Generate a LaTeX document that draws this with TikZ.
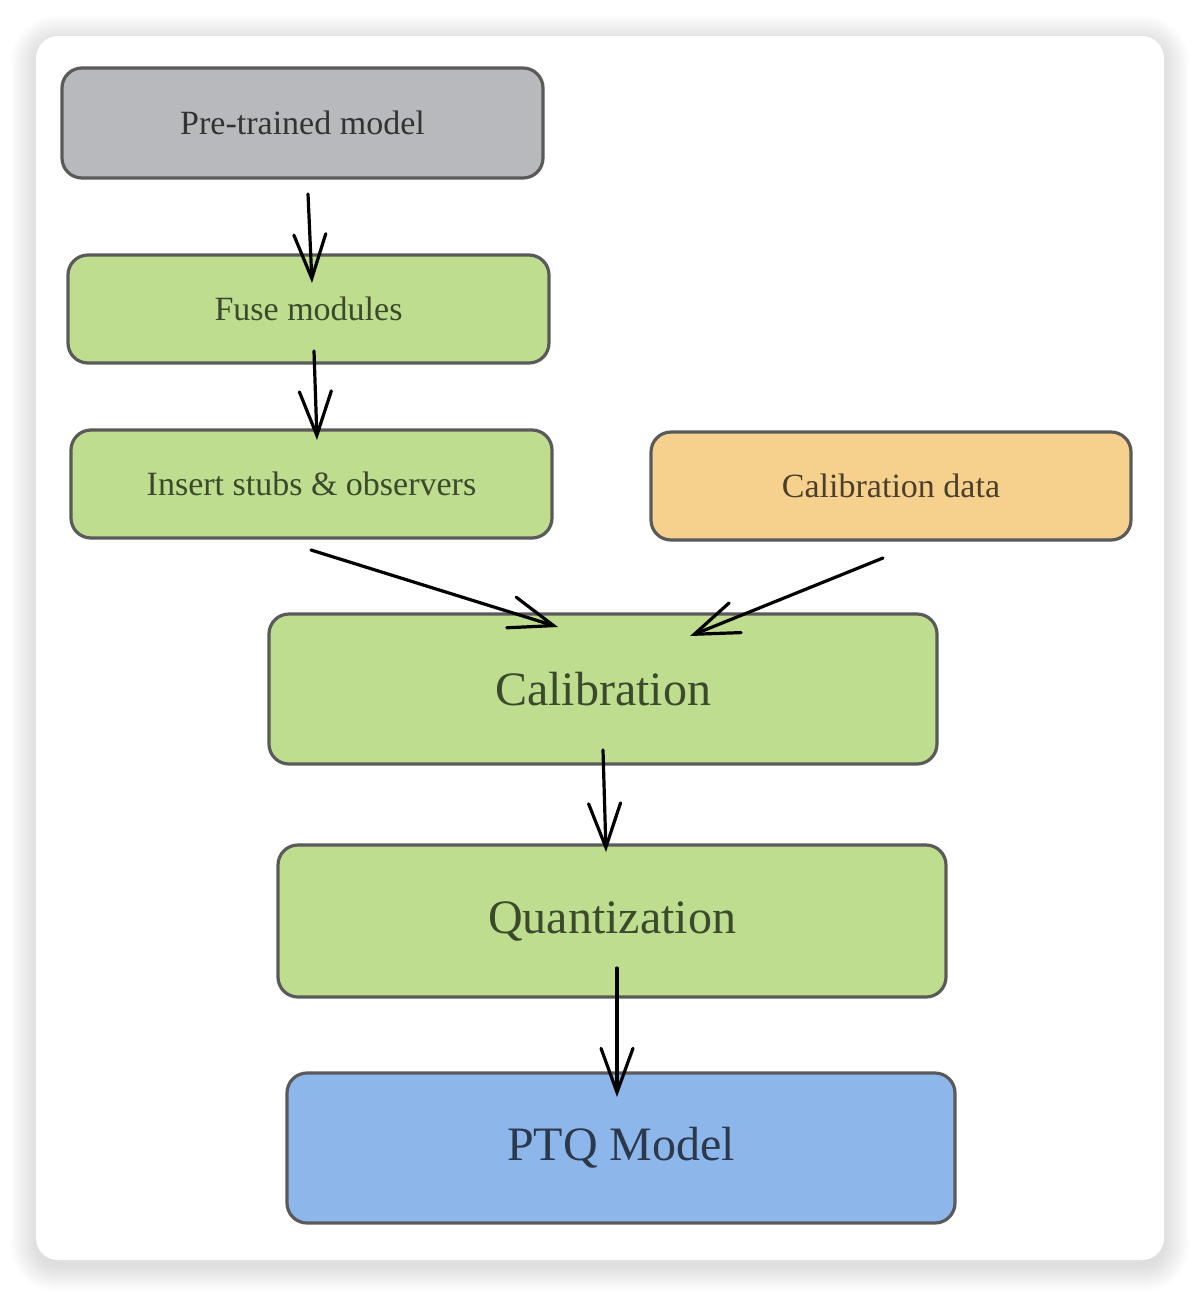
\documentclass[tikz,border=0pt]{standalone}
\usepackage{fontspec}
\setmainfont{Liberation Serif}
\usetikzlibrary{arrows.meta}
\definecolor{grayfill}{HTML}{B7B9BC}
\definecolor{greenfill}{HTML}{BFDD8F}
\definecolor{orangefill}{HTML}{F6D18E}
\definecolor{bluefill}{HTML}{8DB7EB}
\definecolor{edgegray}{HTML}{5A5A5A}
\definecolor{txtgray}{HTML}{333333}
\definecolor{txtgreen}{HTML}{3B4A2C}
\definecolor{txtorange}{HTML}{4A3F2A}
\definecolor{txtblue}{HTML}{2C394D}
\tikzset{
  x=1pt, y=-1pt,
  box/.style={draw=edgegray, line width=3.2pt, rounded corners=20pt, align=center, inner sep=0pt},
  smallbox/.style={box, minimum width=481pt, minimum height=108pt, font=\fontsize{34}{40}\selectfont},
  bigbox/.style={box, minimum width=668pt, minimum height=150pt, font=\fontsize{48}{56}\selectfont},
  flow/.style={line width=3.2pt, line cap=round, line join=round, draw=black,
    -{Straight Barb[length=44pt, width=32pt, line cap=round]}},
}
\begin{document}
\begin{tikzpicture}
\useasboundingbox (0,0) rectangle (1200,1296);
\fill[white] (0,0) rectangle (1200,1296);
\foreach \i in {1,...,16} {
  \fill[black, opacity=0.009, rounded corners={22pt+1.6pt*\i}]
    ({36-1.6*\i},{36+5-1.6*\i}) rectangle ({1164+1.6*\i},{1260+6+1.6*\i});
}
\fill[white, rounded corners=22pt] (36,36) rectangle (1164,1260);

\node[smallbox, fill=grayfill, text=txtgray, minimum height=110pt] (pre) at (302.5,123) {Pre-trained model};
\node[smallbox, fill=greenfill, text=txtgreen] (fuse) at (308.5,309) {Fuse modules};
\node[smallbox, fill=greenfill, text=txtgreen] (ins) at (311.5,484) {Insert stubs \& observers};
\node[smallbox, fill=orangefill, text=txtorange, minimum width=480pt] (cdata) at (891,486) {Calibration data};
\node[bigbox, fill=greenfill, text=txtgreen] (calib) at (603,689) {Calibration};
\node[bigbox, fill=greenfill, text=txtgreen, minimum height=152pt] (quant) at (612,921) {Quantization};
\node[bigbox, fill=bluefill, text=txtblue] (ptq) at (621,1148) {PTQ Model};

\coordinate (a1s) at (308,194);
\coordinate (a1e) at (312,283);
\coordinate (a2s) at (314,351);
\coordinate (a2e) at (317,440);
\coordinate (a3s) at (311,550);
\coordinate (a3e) at (558,627);
\coordinate (a4s) at (883,558);
\coordinate (a4e) at (690,636);
\coordinate (a5s) at (603,750);
\coordinate (a5e) at (606,852);
\coordinate (a6s) at (617,968);
\coordinate (a6e) at (617,1097);

\draw[flow] (a1s) -- (a1e);
\draw[flow] (a2s) -- (a2e);
\draw[flow] (a3s) -- (a3e);
\draw[flow] (a4s) -- (a4e);
\draw[flow] (a5s) -- (a5e);
\draw[flow] (a6s) -- (a6e);
\end{tikzpicture}
\end{document}
